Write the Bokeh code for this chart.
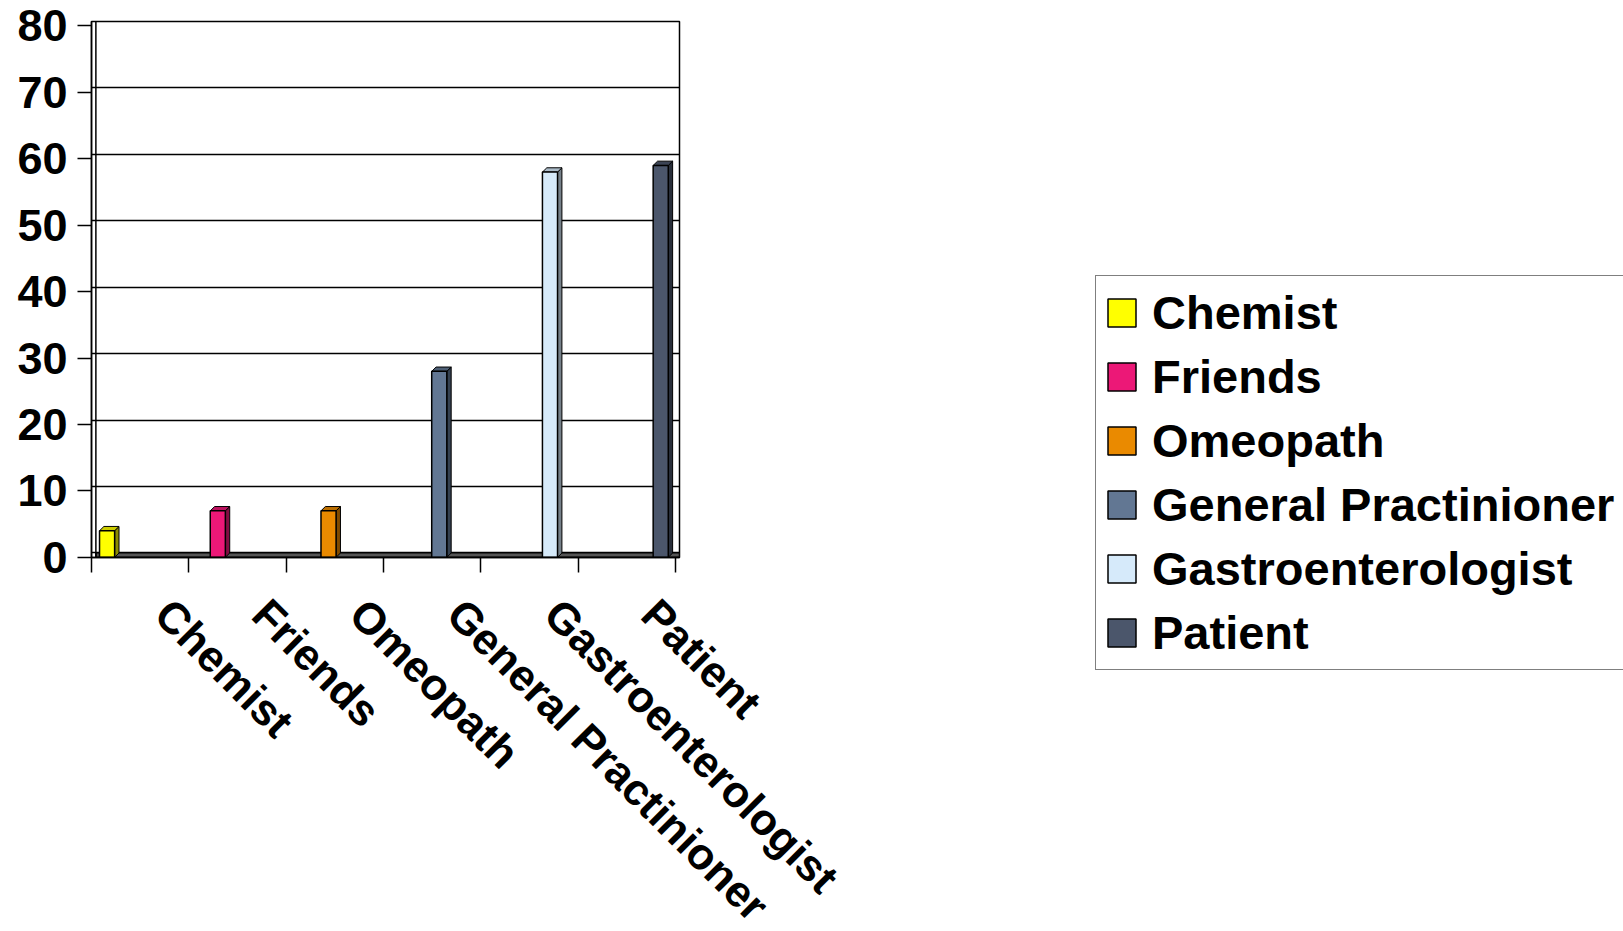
import math

from bokeh.embed import file_html
from bokeh.models import (ColumnDataSource, FixedTicker, Legend, LegendItem, LinearAxis,
                          Range1d, Span)
from bokeh.plotting import figure
from bokeh.resources import INLINE

# --- data -------------------------------------------------------------
categories = ["Chemist", "Friends", "Omeopath", "General Practinioner",
              "Gastroenterologist", "Patient"]
values = [4, 7, 7, 28, 58, 59]
colors = ["#FFFF00", "#EC1877", "#EA8A00", "#627793", "#D6EAFA", "#4B566B"]
y_ticks = [0, 10, 20, 30, 40, 50, 60, 70, 80]

FONT = "Liberation Sans"


def shade(hex_color, k):
    r, g, b = (int(hex_color[i:i + 2], 16) for i in (1, 3, 5))
    return "#%02x%02x%02x" % (int(r * k), int(g * k), int(b * k))


# --- geometry of the pseudo-3D columns (in data units) ----------------
n = len(categories)
bar_w = 0.155          # front face width
dx, dy = 0.045, 0.65   # depth offset of side/top faces
depth = 0.675          # front edge of the floor sits this far below the back wall
bar_x = [0.16 + 1.1374 * i for i in range(n)]

p = figure(
    frame_width=588, frame_height=536,
    min_border_left=91, min_border_right=944,
    min_border_top=21, min_border_bottom=374,
    x_range=Range1d(0, 6.04), y_range=Range1d(-0.7, 80),
    y_axis_location=None,
    output_backend="svg", toolbar_location=None,
    background_fill_color="white", border_fill_color="white",
)
# front plane (axis and columns) is drawn slightly lower than the back wall
p.extra_y_ranges = {"front": Range1d(-0.7 + depth, 80 + depth)}

p.outline_line_color = "black"
p.outline_line_width = 1.5

# horizontal gridlines on the back wall
p.xgrid.visible = False
p.ygrid.ticker = FixedTicker(ticks=y_ticks)
p.ygrid.grid_line_color = "black"
p.ygrid.grid_line_width = 1.5

# inner edge of the left wall
p.add_layout(Span(location=0.045, dimension="height", line_color="black", line_width=1.5))

# floor
p.quad(left=0.045, right=6.04, bottom=-depth, top=0, fill_color="#555555",
       line_color="black", line_width=1.5)

# y axis on the front plane
yaxis = LinearAxis(y_range_name="front", ticker=FixedTicker(ticks=y_ticks))
yaxis.axis_line_color = "black"
yaxis.axis_line_width = 1.5
yaxis.major_tick_out = 14
yaxis.major_tick_in = 0
yaxis.minor_tick_line_color = None
yaxis.major_tick_line_width = 1.5
yaxis.major_label_standoff = 10
yaxis.major_label_text_font = FONT
yaxis.major_label_text_font_style = "bold"
yaxis.major_label_text_font_size = "45px"
yaxis.major_label_text_color = "black"
p.add_layout(yaxis, "left")

# x axis: tick marks between categories, labels in between
label_pos = [k + 0.735 for k in range(n)]
p.xaxis.ticker = FixedTicker(ticks=label_pos, minor_ticks=list(range(n + 1)))
p.xaxis.major_label_overrides = {pos: cat for pos, cat in zip(label_pos, categories)}
p.xaxis.major_tick_line_color = None
p.xaxis.minor_tick_out = 15
p.xaxis.minor_tick_in = 0
p.xaxis.minor_tick_line_color = "black"
p.xaxis.minor_tick_line_width = 1.5
p.xaxis.axis_line_color = "black"
p.xaxis.axis_line_width = 1.5
p.xaxis.major_label_orientation = -math.pi / 4
p.xaxis.major_label_standoff = 34
p.xaxis.major_label_text_font = FONT
p.xaxis.major_label_text_font_style = "bold"
p.xaxis.major_label_text_font_size = "44px"
p.xaxis.major_label_text_color = "black"

# columns: side face, top face, front face
items = []
for i, (x, v, c) in enumerate(zip(bar_x, values, colors)):
    xr = x + bar_w / 2
    xl = x - bar_w / 2
    p.patch([xr, xr + dx, xr + dx, xr], [0, dy, v + dy, v], y_range_name="front",
            fill_color=shade(c, 0.55), line_color="black", line_width=1)
    p.patch([xl, xl + dx, xr + dx, xr], [v, v + dy, v + dy, v], y_range_name="front",
            fill_color=shade(c, 0.8), line_color="black", line_width=1)
    src = ColumnDataSource(dict(x=[x], top=[v]))
    r = p.vbar(x="x", top="top", bottom=0, width=bar_w, source=src, y_range_name="front",
               fill_color=c, line_color="black", line_width=1.5)
    items.append(LegendItem(label=categories[i], renderers=[r]))

legend = Legend(
    items=items,
    location=(416, -113),
    border_line_color="black", border_line_width=1.5,
    background_fill_color="white", background_fill_alpha=1,
    label_text_font=FONT, label_text_font_style="bold",
    label_text_font_size="47px", label_text_color="black",
    glyph_width=35, glyph_height=35,
    label_standoff=13, label_height=57, label_width=490,
    spacing=7, padding=8, margin=0,
)
p.add_layout(legend, "right")

open("out.html", "w").write(file_html(p, INLINE))
